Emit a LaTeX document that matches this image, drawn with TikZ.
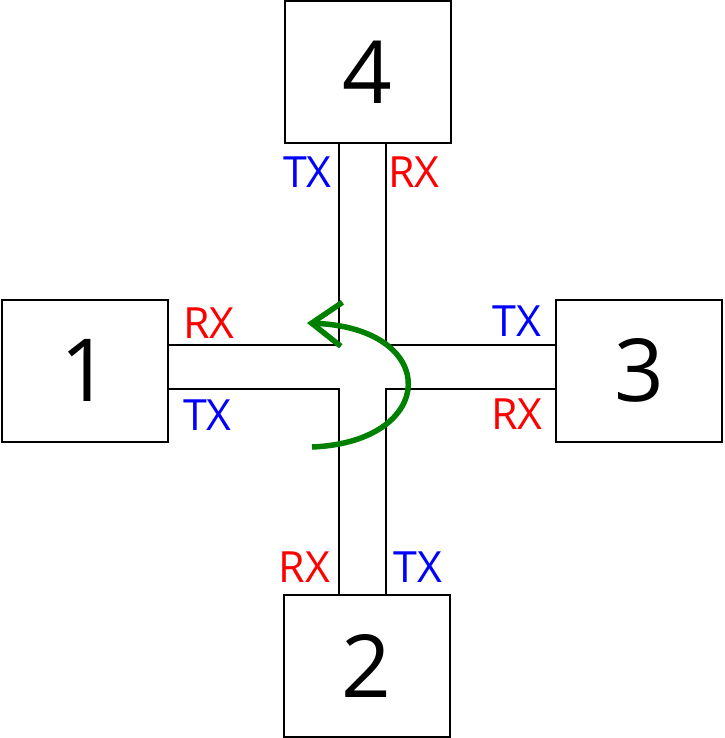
\documentclass[tikz,border=0pt]{standalone}
\usepackage{fontspec}
\setmainfont{Open Sans}
\usetikzlibrary{arrows.meta}
\definecolor{arrowgreen}{RGB}{0,128,0}

\begin{document}
\begin{tikzpicture}[x=1pt, y=-1pt,
    port/.style={draw=black, line width=2pt, minimum width=166pt, minimum height=142pt, inner sep=0pt, outer sep=0pt, font=\fontsize{87}{90}\selectfont},
    wire/.style={black, line width=2pt},
    tx/.style={text=blue, font=\fontsize{43}{46}\selectfont, inner sep=0pt},
    rx/.style={text=red, font=\fontsize{43}{46}\selectfont, inner sep=0pt}]
\useasboundingbox (0,0) rectangle (724,738);

\node[port] (n4) at (367.5,72) {4};
\node[port] (n1) at (85,370.5) {1};
\node[port] (n3) at (639,370.5) {3};
\node[port] (n2) at (366.5,665.5) {2};

\coordinate (hA) at (0,344.5);
\coordinate (hB) at (0,388.5);
\coordinate (vA) at (338.5,0);
\coordinate (vB) at (386,0);

\draw[wire] (n1.east |- hA) -| (n4.south -| vA);
\draw[wire] (n4.south -| vB) |- (n3.west |- hA);
\draw[wire] (n3.west |- hB) -| (n2.north -| vB);
\draw[wire] (n2.north -| vA) |- (n1.east |- hB);

\node[tx] (t4) at (307.5,172) {TX};
\node[rx] (r4) at (414,172) {RX};
\node[rx] (r1) at (209,323) {RX};
\node[tx] (t1) at (207.5,415) {TX};
\node[tx] (t3) at (517,321) {TX};
\node[rx] (r3) at (517,414) {RX};
\node[rx] (r2) at (304.5,567.5) {RX};
\node[tx] (t2) at (418,567.5) {TX};

\coordinate (turnA) at (312,447);
\coordinate (turnB) at (307,323);
\draw[arrowgreen, line width=5.5pt, -{Straight Barb[length=30pt, width=44pt]}]
    (turnA) .. controls (438,442) and (442,328) .. (turnB);

\end{tikzpicture}
\end{document}
